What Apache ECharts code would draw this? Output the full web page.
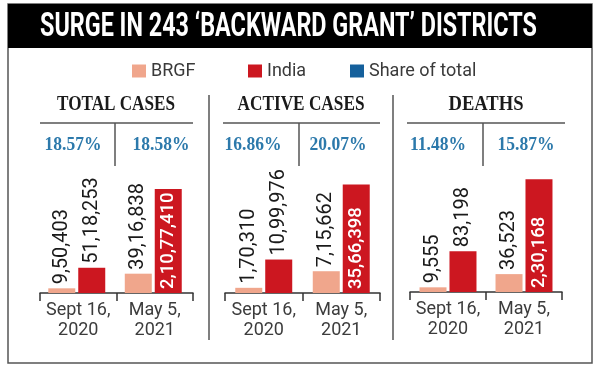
<!DOCTYPE html>
<html><head><meta charset="utf-8">
<script src="https://cdn.jsdelivr.net/npm/echarts@6/dist/echarts.min.js"></script>
<style>html,body{margin:0;padding:0;background:#fff}#c{width:600px;height:371px}</style>
</head><body><div id="c"></div>
<script>
// ---- data ----
const chartTitle = 'SURGE IN 243 \u2018BACKWARD GRANT\u2019 DISTRICTS';
const periods = ['Sept 16,\n2020', 'May 5,\n2021'];
const panelTitles = ['TOTAL CASES', 'ACTIVE CASES', 'DEATHS'];
const brgfTotal = [950403, 3916838];
const indiaTotal = [5118253, 21077410];
const brgfActive = [170310, 715662];
const indiaActive = [1099976, 3566398];
const brgfDeaths = [9555, 36523];
const indiaDeaths = [83198, 230168];
const shareTotal = ['18.57%', '18.58%'];
const shareActive = ['16.86%', '20.07%'];
const shareDeaths = ['11.48%', '15.87%'];

// ---- layout / style ----
const COL_BRGF = '#f0a68c', COL_INDIA = '#cc1720', COL_SHARE = '#15609c', COL_PCT = '#2c79ab';
const LINE = '#555';
const panels = [
  {title: panelTitles[0], brgf: brgfTotal, india: indiaTotal, share: shareTotal, left: 40, width: 153, bottom: 78, max: 29000000,
   titleX: 116, lineX: [40, 193], divX: 115, pctX: [73, 161], titleW: 118},
  {title: panelTitles[1], brgf: brgfActive, india: indiaActive, share: shareActive, left: 225, width: 155, bottom: 78, max: 4700000,
   titleX: 301, lineX: [223, 380], divX: 299, pctX: [253, 338], titleW: 127},
  {title: panelTitles[2], brgf: brgfDeaths, india: indiaDeaths, share: shareDeaths, left: 410, width: 152, bottom: 79, max: 292000,
   titleX: 486, lineX: [407, 565], divX: 483, pctX: [438, 526], titleW: 75}
];

function fmtIN(v) {
  const s = String(Math.round(v));
  if (s.length <= 3) return s;
  let last3 = s.slice(-3), rest = s.slice(0, -3);
  const parts = [];
  while (rest.length > 2) { parts.unshift(rest.slice(-2)); rest = rest.slice(0, -2); }
  if (rest.length) parts.unshift(rest);
  return parts.join(',') + ',' + last3;
}

const cvs = document.createElement('canvas').getContext('2d');
function measure(str, font) { cvs.font = font; return cvs.measureText(str).width; }
function fitText(str, x, y, family, size, weight, color, targetW) {
  const w = measure(str, weight + ' ' + size + 'px ' + family);
  return {
    type: 'text', x: x, y: y, scaleX: targetW / w, scaleY: 1,
    style: {text: str, fontFamily: family, fontSize: size, fontWeight: weight, fill: color, align: 'center', verticalAlign: 'middle'},
    z: 10
  };
}
function line(x1, y1, x2, y2) {
  return {type: 'line', shape: {x1, y1, x2, y2}, style: {stroke: LINE, lineWidth: 1.5}, z: 5};
}

const grids = [], xAxes = [], yAxes = [], series = [];
const graphic = [
  {type: 'rect', shape: {x: 8, y: 4, width: 584, height: 359}, style: {fill: 'none', stroke: LINE, lineWidth: 1.5}, z: 1},
  {type: 'rect', shape: {x: 8, y: 4, width: 584, height: 44}, style: {fill: '#000'}, z: 2},
  fitText(chartTitle, 288.5, 27, 'Roboto', 34, 'bold', '#fff', 497),
  line(209, 95, 209, 340), line(393, 95, 393, 340)
];
const pctScaleW = measure('18.57%', 'bold 19px "Liberation Serif"');

panels.forEach((p, i) => {
  grids.push({left: p.left, width: p.width, bottom: p.bottom, height: 143});
  xAxes.push({
    type: 'category', gridIndex: i, data: periods, boundaryGap: true,
    axisLine: {lineStyle: {color: '#333', width: 1.5}},
    axisTick: {show: true, length: 8, lineStyle: {color: '#333', width: 1.5}},
    axisLabel: {interval: 0, fontSize: 18, lineHeight: 20, color: '#3c3c3c', fontFamily: 'Roboto', margin: 7}
  });
  yAxes.push({type: 'value', gridIndex: i, min: 0, max: p.max, show: false});
  const lbl = {show: true, position: 'top', rotate: 90, align: 'left', verticalAlign: 'middle', distance: 4,
    fontSize: 20, fontFamily: 'Roboto', color: '#1a1a1a', formatter: (d) => fmtIN(d.value)};
  series.push({
    name: 'BRGF', type: 'bar', xAxisIndex: i, yAxisIndex: i, barWidth: 27, barGap: '11%',
    itemStyle: {color: COL_BRGF}, label: lbl, data: p.brgf.slice()
  });
  series.push({
    name: 'India', type: 'bar', xAxisIndex: i, yAxisIndex: i, barWidth: 27, barGap: '11%',
    itemStyle: {color: COL_INDIA}, label: lbl,
    data: p.india.map((v, k) => k === 1 ? {value: v, label: {position: 'insideBottom', color: '#fff', fontWeight: 500, fontSize: 18.5, distance: 4}} : v)
  });
  graphic.push(fitText(p.title, p.titleX, 105, '"Liberation Serif"', 21, 'bold', '#1a1a1a', p.titleW));
  graphic.push(line(p.lineX[0], 123, p.lineX[1], 123));
  graphic.push(line(p.divX, 123, p.divX, 166));
  p.share.forEach((s, k) => {
    const w = measure(s, 'bold 19px "Liberation Serif"');
    graphic.push(fitText(s, p.pctX[k], 145, '"Liberation Serif"', 19, 'bold', COL_PCT, w * 57 / pctScaleW));
  });
});
series.push({name: 'Share of total', type: 'bar', xAxisIndex: 0, yAxisIndex: 0, data: [], itemStyle: {color: COL_SHARE}});

const legStyle = {fontSize: 18, fontFamily: 'Roboto', color: '#3a3a3a'};
const mkLegend = (name, left) => ({data: [name], left: left, top: 62, padding: 0, itemWidth: 14, itemHeight: 13, icon: 'rect',
  selectedMode: false, textStyle: legStyle});

const chart = echarts.init(document.getElementById('c'), null, {renderer: 'canvas'});
chart.setOption({
  animation: false,
  legend: [mkLegend('BRGF', 132), mkLegend('India', 248), mkLegend('Share of total', 350)],
  grid: grids, xAxis: xAxes, yAxis: yAxes, series: series, graphic: graphic
});
</script></body></html>
